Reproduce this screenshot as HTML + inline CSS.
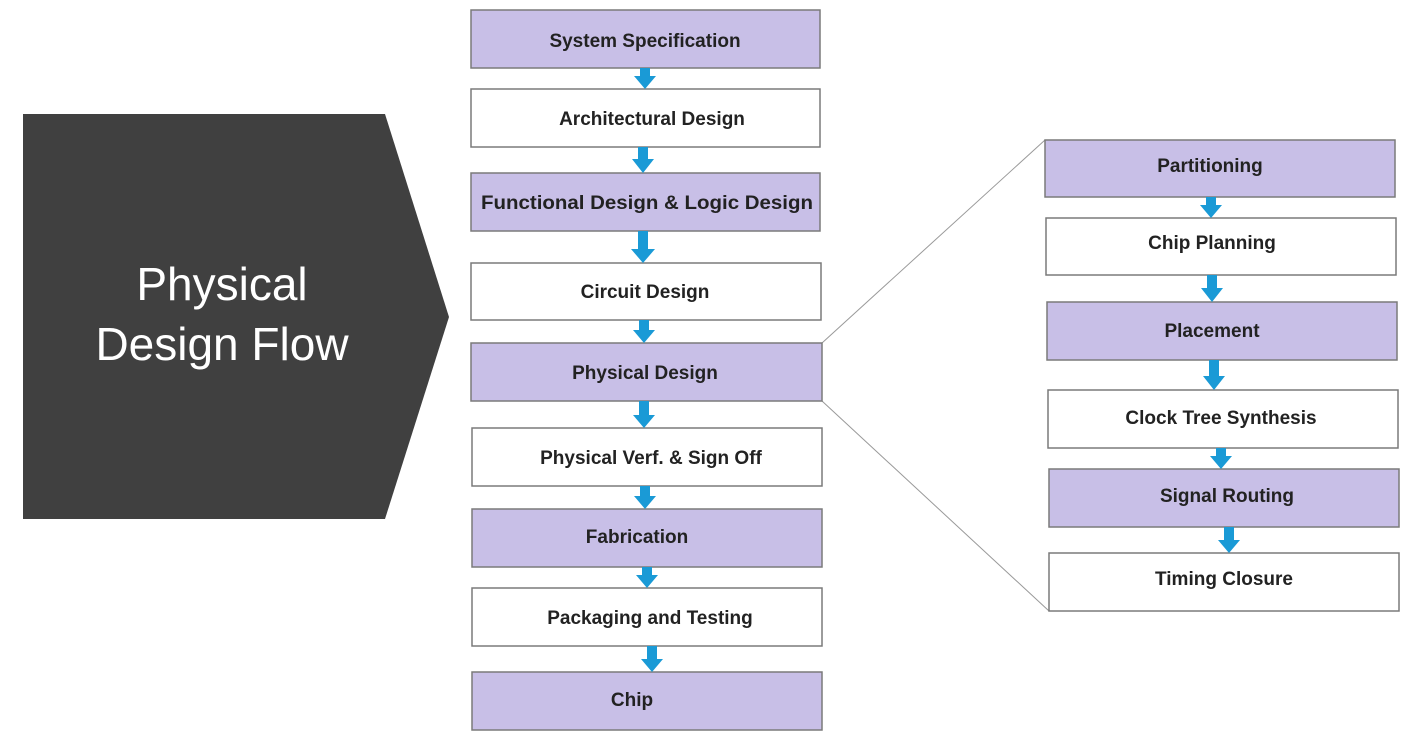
<!DOCTYPE html>
<html><head><meta charset="utf-8"><style>html,body{margin:0;padding:0;background:#fff}svg{display:block}</style></head>
<body>
<svg width="1410" height="739" viewBox="0 0 1410 739" xmlns="http://www.w3.org/2000/svg" font-family="Liberation Sans, sans-serif">
<polygon points="23,114 385,114 449,317 385,519 23,519" fill="#404040"/>
<text x="222" y="300" fill="#fff" font-size="46" text-anchor="middle">Physical</text>
<text x="222" y="360" fill="#fff" font-size="46" text-anchor="middle">Design Flow</text>
<line x1="822" y1="343" x2="1045" y2="140" stroke="#999" stroke-width="1"/>
<line x1="822" y1="401" x2="1049" y2="611" stroke="#999" stroke-width="1"/>
<g stroke="#7a7a7a" stroke-width="1.5">
<rect x="471" y="10" width="349" height="58" fill="#c8bfe7"/>
<rect x="471" y="89" width="349" height="58" fill="#fff"/>
<rect x="471" y="173" width="349" height="58" fill="#c8bfe7"/>
<rect x="471" y="263" width="350" height="57" fill="#fff"/>
<rect x="471" y="343" width="351" height="58" fill="#c8bfe7"/>
<rect x="472" y="428" width="350" height="58" fill="#fff"/>
<rect x="472" y="509" width="350" height="58" fill="#c8bfe7"/>
<rect x="472" y="588" width="350" height="58" fill="#fff"/>
<rect x="472" y="672" width="350" height="58" fill="#c8bfe7"/>
<rect x="1045" y="140" width="350" height="57" fill="#c8bfe7"/>
<rect x="1046" y="218" width="350" height="57" fill="#fff"/>
<rect x="1047" y="302" width="350" height="58" fill="#c8bfe7"/>
<rect x="1048" y="390" width="350" height="58" fill="#fff"/>
<rect x="1049" y="469" width="350" height="58" fill="#c8bfe7"/>
<rect x="1049" y="553" width="350" height="58" fill="#fff"/>
</g>
<g font-size="19" font-weight="bold" text-anchor="middle" fill="#222">
<text x="645" y="47">System Specification</text>
<text x="652" y="125">Architectural Design</text>
<text x="647" y="209" textLength="332" lengthAdjust="spacingAndGlyphs">Functional Design &amp; Logic Design</text>
<text x="645" y="298">Circuit Design</text>
<text x="645" y="379">Physical Design</text>
<text x="651" y="464">Physical Verf. &amp; Sign Off</text>
<text x="637" y="543">Fabrication</text>
<text x="650" y="624">Packaging and Testing</text>
<text x="632" y="706">Chip</text>
<text x="1210" y="172">Partitioning</text>
<text x="1212" y="249">Chip Planning</text>
<text x="1212" y="337">Placement</text>
<text x="1221" y="424">Clock Tree Synthesis</text>
<text x="1227" y="502">Signal Routing</text>
<text x="1224" y="585">Timing Closure</text>
</g>
<g fill="#1a9ad6">
<path d="M640,68h10v8h6l-11,13l-11,-13h6z"/>
<path d="M638,147h10v12h6l-11,14l-11,-14h6z"/>
<path d="M638,231h10v18h7l-12,14l-12,-14h7z"/>
<path d="M639,320h10v10h6l-11,13l-11,-13h6z"/>
<path d="M639,401h10v14h6l-11,13l-11,-13h6z"/>
<path d="M640,486h10v10h6l-11,13l-11,-13h6z"/>
<path d="M642,567h10v8h6l-11,13l-11,-13h6z"/>
<path d="M647,646h10v13h6l-11,13l-11,-13h6z"/>
<path d="M1206,197h10v8h6l-11,13l-11,-13h6z"/>
<path d="M1207,275h10v13h6l-11,14l-11,-14h6z"/>
<path d="M1209,360h10v16h6l-11,14l-11,-14h6z"/>
<path d="M1216,448h10v8h6l-11,13l-11,-13h6z"/>
<path d="M1224,527h10v13h6l-11,13l-11,-13h6z"/>
</g>
</svg>
</body></html>
